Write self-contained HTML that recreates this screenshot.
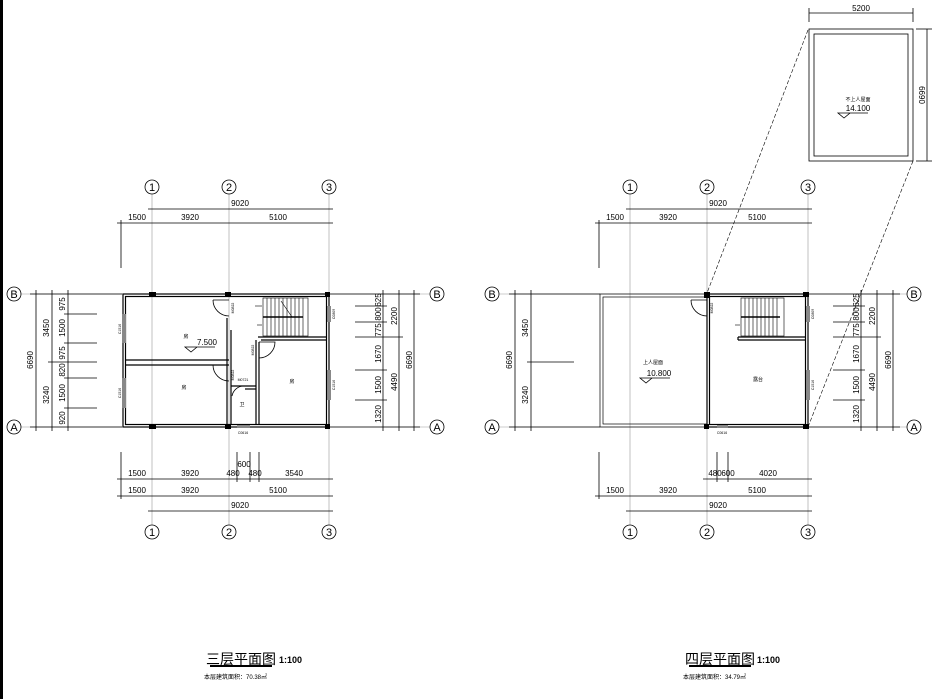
<!DOCTYPE html>
<html><head><meta charset="utf-8"><style>
html,body{margin:0;padding:0;background:#fff;}
svg{display:block;}
text{font-family:"Liberation Sans","Noto Sans CJK SC",sans-serif;fill:#000;}
.t{font-size:8px;}
.c{font-size:3.5px;}
.n{font-family:"Liberation Serif",serif;font-size:11px;}
</style></head><body>
<svg width="937" height="699" viewBox="0 0 937 699" xmlns="http://www.w3.org/2000/svg">
<rect x="0" y="0" width="3" height="699" fill="#000"/>
<g stroke="#000" fill="none" stroke-width="0.8">
<g stroke="#999" stroke-width="0.6">
<line x1="152" y1="194" x2="152" y2="525"/><line x1="229" y1="194" x2="229" y2="525"/><line x1="329" y1="194" x2="329" y2="525"/>
<line x1="21" y1="294" x2="430" y2="294"/><line x1="21" y1="427" x2="430" y2="427"/>
</g>
<circle cx="152" cy="187" r="7"/><circle cx="229" cy="187" r="7"/><circle cx="329" cy="187" r="7"/>
<circle cx="152" cy="532" r="7"/><circle cx="229" cy="532" r="7"/><circle cx="329" cy="532" r="7"/>
<circle cx="14" cy="294" r="7"/><circle cx="14" cy="427" r="7"/><circle cx="437" cy="294" r="7"/><circle cx="437" cy="427" r="7"/>
<line x1="148" y1="209" x2="333" y2="209"/><line x1="117" y1="223" x2="333" y2="223"/>
<line x1="121" y1="220" x2="121" y2="268"/>
<line x1="117" y1="479" x2="333" y2="479"/><line x1="117" y1="496" x2="333" y2="496"/><line x1="148" y1="511" x2="333" y2="511"/>
<line x1="121" y1="452" x2="121" y2="499"/>
<line x1="237" y1="452" x2="237" y2="482"/><line x1="250" y1="452" x2="250" y2="482"/><line x1="259" y1="452" x2="259" y2="482"/>
<line x1="36" y1="290" x2="36" y2="431"/><line x1="52" y1="290" x2="52" y2="431"/><line x1="68" y1="290" x2="68" y2="431"/>
<line x1="30" y1="294" x2="122" y2="294"/><line x1="30" y1="427" x2="122" y2="427"/>
<line x1="48" y1="362" x2="97" y2="362"/>
<line x1="64" y1="314" x2="97" y2="314"/><line x1="64" y1="343" x2="97" y2="343"/><line x1="64" y1="378" x2="97" y2="378"/><line x1="64" y1="408" x2="97" y2="408"/>
<line x1="383" y1="290" x2="383" y2="431"/><line x1="399" y1="290" x2="399" y2="431"/><line x1="414" y1="290" x2="414" y2="431"/>
<line x1="330" y1="294" x2="420" y2="294"/><line x1="330" y1="427" x2="420" y2="427"/>
<line x1="355" y1="306" x2="387" y2="306"/><line x1="355" y1="322" x2="387" y2="322"/><line x1="355" y1="337" x2="403" y2="337"/><line x1="355" y1="370" x2="387" y2="370"/><line x1="355" y1="400" x2="387" y2="400"/>
<g stroke-width="1.2">
<rect x="123" y="294" width="206" height="133"/>
<rect x="125.5" y="296.5" width="201" height="128"/>
<line x1="125" y1="360" x2="229" y2="360"/><line x1="125" y1="365" x2="229" y2="365"/>
<line x1="227" y1="318" x2="227" y2="425"/><line x1="231" y1="330" x2="231" y2="425"/>
<line x1="256" y1="340" x2="256" y2="425"/><line x1="259" y1="342" x2="259" y2="425"/>
<line x1="258" y1="337" x2="327" y2="337"/><line x1="261" y1="340" x2="327" y2="340"/>
<line x1="231" y1="386" x2="256" y2="386"/><line x1="245" y1="389" x2="256" y2="389"/>
</g>
<g fill="#888" stroke="none">
<rect x="122" y="314" width="4" height="29"/><rect x="122" y="378" width="4" height="30"/>
<rect x="327" y="306" width="4" height="16"/><rect x="327" y="370" width="4" height="30"/>
<rect x="237" y="425" width="13" height="3"/>
</g>
<g fill="#000" stroke="none">
<rect x="149" y="292" width="7" height="5"/><rect x="225" y="292" width="6" height="5"/><rect x="325" y="292" width="5" height="5"/>
<rect x="149" y="424" width="7" height="5"/><rect x="225" y="424" width="6" height="5"/><rect x="325" y="424" width="5" height="5"/>
</g>
<path d="M213 300 A16 16 0 0 0 229 316 M213 300 L229 300"/>
<path d="M213 365 A16 16 0 0 0 229 381 M213 365 L229 365"/>
<path d="M259 342 L275 342 A16 16 0 0 1 259 358"/>
<path d="M232 396 A12 12 0 0 1 244 386"/>
<g stroke-width="0.6">
<rect x="263" y="298" width="45" height="38"/>
<line x1="263" y1="317" x2="303" y2="317" stroke-width="1.5"/>
<line x1="267" y1="298" x2="267" y2="336"/><line x1="271" y1="298" x2="271" y2="336"/><line x1="275" y1="298" x2="275" y2="336"/><line x1="279" y1="298" x2="279" y2="336"/><line x1="283" y1="298" x2="283" y2="336"/><line x1="287" y1="298" x2="287" y2="336"/><line x1="291" y1="298" x2="291" y2="336"/><line x1="295" y1="298" x2="295" y2="336"/><line x1="299" y1="298" x2="299" y2="336"/><line x1="303" y1="298" x2="303" y2="336"/>
<line x1="281" y1="301" x2="292" y2="317"/>
<line x1="255" y1="306" x2="262" y2="306"/><line x1="257" y1="325" x2="262" y2="325"/>
</g>
<path d="M185 347 L197 347 L191 352 Z M191 347 L215 347"/>

<g stroke="#999" stroke-width="0.6">
<line x1="630" y1="194" x2="630" y2="525"/><line x1="707" y1="194" x2="707" y2="525"/><line x1="808" y1="194" x2="808" y2="525"/>
<line x1="499" y1="294" x2="907" y2="294"/><line x1="499" y1="427" x2="907" y2="427"/>
</g>
<circle cx="630" cy="187" r="7"/><circle cx="707" cy="187" r="7"/><circle cx="808" cy="187" r="7"/>
<circle cx="630" cy="532" r="7"/><circle cx="707" cy="532" r="7"/><circle cx="808" cy="532" r="7"/>
<circle cx="492" cy="294" r="7"/><circle cx="492" cy="427" r="7"/><circle cx="914" cy="294" r="7"/><circle cx="914" cy="427" r="7"/>
<line x1="626" y1="209" x2="812" y2="209"/><line x1="595" y1="223" x2="812" y2="223"/>
<line x1="599" y1="220" x2="599" y2="268"/>
<line x1="703" y1="479" x2="812" y2="479"/><line x1="595" y1="496" x2="812" y2="496"/><line x1="626" y1="511" x2="812" y2="511"/>
<line x1="599" y1="452" x2="599" y2="499"/>
<line x1="717" y1="452" x2="717" y2="482"/><line x1="728" y1="452" x2="728" y2="482"/>
<line x1="515" y1="290" x2="515" y2="431"/><line x1="531" y1="290" x2="531" y2="431"/>
<line x1="509" y1="294" x2="600" y2="294"/><line x1="509" y1="427" x2="600" y2="427"/>
<line x1="527" y1="362" x2="574" y2="362"/>
<line x1="861" y1="290" x2="861" y2="431"/><line x1="877" y1="290" x2="877" y2="431"/><line x1="893" y1="290" x2="893" y2="431"/>
<line x1="809" y1="294" x2="900" y2="294"/><line x1="809" y1="427" x2="900" y2="427"/>
<line x1="833" y1="306" x2="865" y2="306"/><line x1="833" y1="322" x2="865" y2="322"/><line x1="833" y1="337" x2="881" y2="337"/><line x1="833" y1="370" x2="865" y2="370"/><line x1="833" y1="400" x2="865" y2="400"/>
<rect x="600" y="294" width="107" height="133" stroke-width="0.7"/>
<rect x="603" y="297" width="104" height="127" stroke-width="0.7"/>
<g stroke-width="1.2">
<rect x="707" y="294" width="101" height="133"/>
<rect x="709.5" y="296.5" width="96" height="128"/>
<line x1="738" y1="337" x2="806" y2="337"/><line x1="738" y1="340" x2="806" y2="340"/><line x1="738" y1="337" x2="738" y2="340"/>
</g>
<g fill="#888" stroke="none">
<rect x="806" y="306" width="4" height="16"/><rect x="806" y="370" width="4" height="30"/><rect x="717" y="425" width="11" height="3"/>
</g>
<g fill="#000" stroke="none">
<rect x="704" y="292" width="6" height="6"/><rect x="803" y="292" width="6" height="5"/><rect x="803" y="424" width="6" height="5"/><rect x="704" y="424" width="5" height="5"/>
</g>
<path d="M691 300 A16 16 0 0 0 707 316 M691 300 L707 300"/>
<g stroke-width="0.6">
<rect x="741" y="298" width="43" height="38"/>
<line x1="741" y1="317" x2="780" y2="317" stroke-width="1.5"/>
<line x1="745" y1="298" x2="745" y2="336"/><line x1="749" y1="298" x2="749" y2="336"/><line x1="753" y1="298" x2="753" y2="336"/><line x1="757" y1="298" x2="757" y2="336"/><line x1="761" y1="298" x2="761" y2="336"/><line x1="765" y1="298" x2="765" y2="336"/><line x1="769" y1="298" x2="769" y2="336"/><line x1="773" y1="298" x2="773" y2="336"/><line x1="777" y1="298" x2="777" y2="336"/>
<line x1="735" y1="325" x2="740" y2="325"/>
</g>
<path d="M640 378 L652 378 L646 383 Z M646 378 L670 378"/>
<line x1="808" y1="30" x2="707" y2="293" stroke-dasharray="4,2" stroke-width="0.6"/>
<line x1="913" y1="161" x2="808" y2="427" stroke-dasharray="4,2" stroke-width="0.6"/>
<rect x="809" y="29" width="104" height="132" stroke-width="0.8"/>
<rect x="814" y="34" width="94" height="122" stroke-width="0.8"/>
<line x1="809" y1="13" x2="913" y2="13"/><line x1="809" y1="8" x2="809" y2="22"/><line x1="913" y1="8" x2="913" y2="22"/>
<line x1="927" y1="29" x2="927" y2="161"/><line x1="916" y1="29" x2="932" y2="29"/><line x1="916" y1="161" x2="932" y2="161"/>
<path d="M838 113 L850 113 L844 118 Z M844 113 L868 113"/>
<line x1="210" y1="666" x2="272" y2="666" stroke-width="2"/>
<line x1="689" y1="666" x2="751" y2="666" stroke-width="2"/>
</g>
<g class="t" text-anchor="middle">
<text x="240" y="206">9020</text><text x="137" y="220">1500</text><text x="190" y="220">3920</text><text x="278" y="220">5100</text>
<text x="137" y="476">1500</text><text x="190" y="476">3920</text><text x="233" y="476">480</text><text x="244" y="467">600</text><text x="255" y="476">480</text><text x="294" y="476">3540</text>
<text x="137" y="493">1500</text><text x="190" y="493">3920</text><text x="278" y="493">5100</text><text x="240" y="508">9020</text>
<text x="718" y="206">9020</text><text x="615" y="220">1500</text><text x="668" y="220">3920</text><text x="757" y="220">5100</text>
<text x="715" y="476">480</text><text x="728" y="476">600</text><text x="768" y="476">4020</text>
<text x="615" y="493">1500</text><text x="668" y="493">3920</text><text x="757" y="493">5100</text><text x="718" y="508">9020</text>
<text x="861" y="11">5200</text>
</g>
<g class="n" text-anchor="middle">
<text x="152" y="191">1</text><text x="229" y="191">2</text><text x="329" y="191">3</text>
<text x="152" y="536">1</text><text x="229" y="536">2</text><text x="329" y="536">3</text>
<text x="630" y="191">1</text><text x="707" y="191">2</text><text x="808" y="191">3</text>
<text x="630" y="536">1</text><text x="707" y="536">2</text><text x="808" y="536">3</text>
<text x="14" y="298">B</text><text x="14" y="431">A</text>
<text x="437" y="298">B</text><text x="437" y="431">A</text>
<text x="492" y="298">B</text><text x="492" y="431">A</text>
<text x="914" y="298">B</text><text x="914" y="431">A</text>
</g>
<g class="t" text-anchor="middle">
<text transform="translate(33,360) rotate(-90)">6690</text>
<text transform="translate(49,328) rotate(-90)">3450</text><text transform="translate(49,395) rotate(-90)">3240</text>
<text transform="translate(65,304) rotate(-90)">975</text><text transform="translate(65,328) rotate(-90)">1500</text><text transform="translate(65,353) rotate(-90)">975</text><text transform="translate(65,370) rotate(-90)">820</text><text transform="translate(65,393) rotate(-90)">1500</text><text transform="translate(65,418) rotate(-90)">920</text>
<text transform="translate(381,300) rotate(-90)">625</text><text transform="translate(381,314) rotate(-90)">800</text><text transform="translate(381,330) rotate(-90)">775</text><text transform="translate(381,354) rotate(-90)">1670</text><text transform="translate(381,385) rotate(-90)">1500</text><text transform="translate(381,414) rotate(-90)">1320</text>
<text transform="translate(397,316) rotate(-90)">2200</text><text transform="translate(397,382) rotate(-90)">4490</text><text transform="translate(412,360) rotate(-90)">6690</text>
<text transform="translate(512,360) rotate(-90)">6690</text>
<text transform="translate(528,328) rotate(-90)">3450</text><text transform="translate(528,395) rotate(-90)">3240</text>
<text transform="translate(859,300) rotate(-90)">625</text><text transform="translate(859,314) rotate(-90)">800</text><text transform="translate(859,330) rotate(-90)">775</text><text transform="translate(859,354) rotate(-90)">1670</text><text transform="translate(859,385) rotate(-90)">1500</text><text transform="translate(859,414) rotate(-90)">1320</text>
<text transform="translate(875,316) rotate(-90)">2200</text><text transform="translate(875,382) rotate(-90)">4490</text><text transform="translate(891,360) rotate(-90)">6690</text>
<text transform="translate(919,95) rotate(90)">6690</text>
</g>
<g class="c" text-anchor="middle">
<text transform="translate(121,329) rotate(-90)">C1516</text><text transform="translate(121,393) rotate(-90)">C1516</text>
<text transform="translate(335,314) rotate(-90)">C0809</text><text transform="translate(335,385) rotate(-90)">C1516</text>
<text transform="translate(234,308) rotate(-90)">M0822</text><text transform="translate(254,350) rotate(-90)">M0822</text><text transform="translate(234,375) rotate(-90)">M0822</text>
<text x="243" y="381">M0721</text><text x="243" y="434">C0616</text>
<text transform="translate(713,308) rotate(-90)">M0822</text>
<text transform="translate(814,314) rotate(-90)">C0809</text><text transform="translate(814,385) rotate(-90)">C1516</text>
<text x="722" y="434">C0616</text>
</g>
<g font-size="5" text-anchor="middle">
<text x="186" y="338">房</text><text x="184" y="389">房</text><text x="292" y="383">房</text><text x="242" y="406">卫</text>
<text x="653" y="364">上人屋面</text><text x="758" y="381">露台</text><text x="858" y="101">不上人屋面</text>
</g>
<g font-size="8" text-anchor="middle">
<text x="207" y="345">7.500</text><text x="659" y="376">10.800</text><text x="858" y="111">14.100</text>
</g>
<text x="241" y="664" font-size="14" text-anchor="middle">三层平面图</text>
<text x="279" y="663" font-size="9" font-weight="bold">1:100</text>
<text x="204" y="679" font-size="6" font-family="Liberation Serif,Noto Serif CJK SC,serif">本层建筑面积：70.38㎡</text>
<text x="720" y="664" font-size="14" text-anchor="middle">四层平面图</text>
<text x="757" y="663" font-size="9" font-weight="bold">1:100</text>
<text x="683" y="679" font-size="6" font-family="Liberation Serif,Noto Serif CJK SC,serif">本层建筑面积：34.79㎡</text>
</svg>
</body></html>
